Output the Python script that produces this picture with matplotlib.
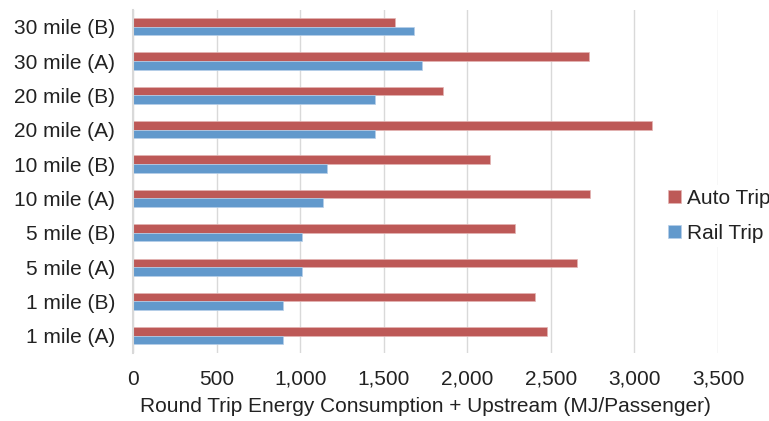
import matplotlib
matplotlib.use("Agg")
import matplotlib.pyplot as plt
import numpy as np

plt.rcParams['font.family'] = ['Liberation Sans', 'DejaVu Sans']

categories = ["1 mile (A)", "1 mile (B)", "5 mile (A)", "5 mile (B)",
              "10 mile (A)", "10 mile (B)", "20 mile (A)", "20 mile (B)",
              "30 mile (A)", "30 mile (B)"]
auto_trip = [2476, 2404, 2656, 2285, 2734, 2137, 3104, 1852, 2731, 1568]
rail_trip = [900, 900, 1014, 1014, 1138, 1158, 1447, 1447, 1731, 1680]
x_ticks = [0, 500, 1000, 1500, 2000, 2500, 3000, 3500]

auto_color = "#BD5957"
rail_color = "#6299CC"
text_color = "#222222"
grid_color = "#D9D9D9"

fig = plt.figure(figsize=(7.69, 4.21), dpi=100)
ax = fig.add_axes([133 / 769, 1 - 353 / 421, (718 - 133) / 769, (353 - 9.5) / 421])

y = np.arange(len(categories))
h = 0.25
ax.barh(y + h / 2, auto_trip, height=h, color=auto_color, label="Auto Trip",
        edgecolor="#E3B5B4", linewidth=0.5, zorder=3)
ax.barh(y - h / 2, rail_trip, height=h, color=rail_color, label="Rail Trip",
        edgecolor="#B6CFE8", linewidth=0.5, zorder=3)

ax.set_xlim(0, 3500)
ax.set_ylim(-0.5, len(categories) - 0.5)
ax.set_xticks(x_ticks)
ax.set_xticklabels([f"{v:,}" for v in x_ticks])
ax.set_yticks(y)
ax.set_yticklabels(categories)
ax.tick_params(axis="both", length=0, labelsize=15, colors=text_color)
ax.tick_params(axis="x", pad=12)
ax.tick_params(axis="y", pad=13)

ax.grid(axis="x", color=grid_color, linewidth=1.0, zorder=0)
ax.set_axisbelow(True)
for s in ["top", "right", "bottom"]:
    ax.spines[s].set_visible(False)
ax.spines["left"].set_color(grid_color)
ax.spines["left"].set_linewidth(1.5)
ax.spines["left"].set_zorder(4)

ax.set_xlabel("Round Trip Energy Consumption + Upstream (MJ/Passenger)",
              fontsize=15, color=text_color, labelpad=6)

handles, labels = ax.get_legend_handles_labels()
leg = fig.legend(handles, labels, loc="center left",
                 bbox_to_anchor=(664 / 769, 1 - 216 / 421),
                 frameon=True, fontsize=15, handlelength=0.6, handleheight=0.6,
                 handletextpad=0.3, labelspacing=0.78, borderpad=0.2,
                 borderaxespad=0)
leg.get_frame().set_edgecolor("none")
leg.get_frame().set_facecolor("white")
leg.get_frame().set_alpha(1)
for t in leg.get_texts():
    t.set_color(text_color)

fig.savefig("out.png", dpi=100)
